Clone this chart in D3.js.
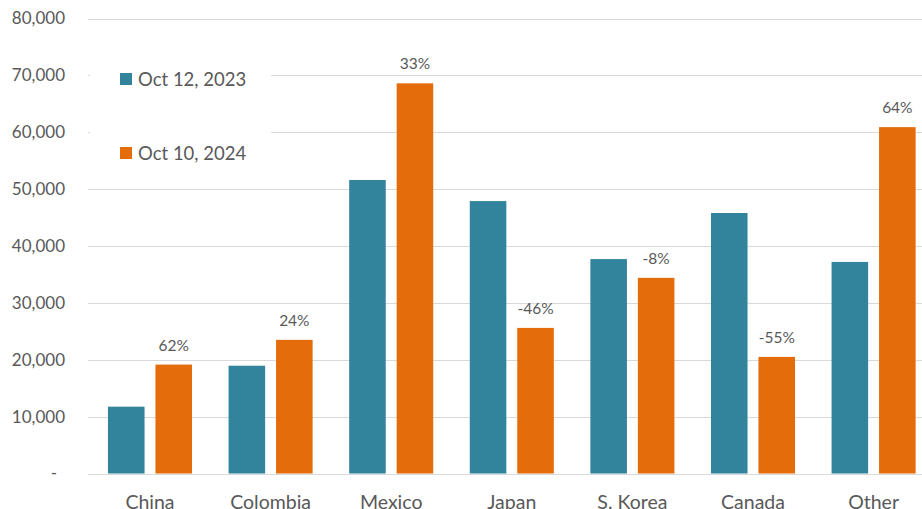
<!DOCTYPE html>
<html>
<head>
<meta charset="utf-8">
<script src="https://cdn.jsdelivr.net/npm/d3@7"></script>
<style>
  body { margin: 0; background: #fff; }
  text { font-family: Lato, "Open Sans", sans-serif; fill: #595959; }
</style>
</head>
<body>
<svg id="chart" width="922" height="509"></svg>
<script>
// Categories along the x axis
var categories = ["China", "Colombia", "Mexico", "Japan", "S. Korea", "Canada", "Other"];
// Series names (legend)
var seriesNames = ["Oct 12, 2023", "Oct 10, 2024"];
// Values per series
var values2023 = [11750, 18950, 51600, 47900, 37700, 45800, 37200];
var values2024 = [19150, 23500, 68600, 25600, 34400, 20500, 60900];
// Change labels over the 2024 bars
var changeLabels = ["62%", "24%", "33%", "-46%", "-8%", "-55%", "64%"];
// Y axis ticks
var yTicks = [0, 10000, 20000, 30000, 40000, 50000, 60000, 70000, 80000];
var colors = ["#31849b", "#e46c0a"];

function drawChart() {
	const svg = d3.select("#chart");

	const y = d3.scaleLinear()
		.domain([0, 80000])
		.range([473.5, 18.5]);

	const x = d3.scaleBand()
		.domain(categories)
		.range([89.7, 933.9])
		.paddingInner(0)
		.paddingOuter(0);

	const xInner = d3.scaleBand()
		.domain([0, 1])
		.range([0, x.bandwidth()])
		.paddingInner(0.23)
		.paddingOuter(0.385);

	// Gridlines
	svg.append("g")
		.selectAll("line")
		.data(yTicks)
		.enter().append("line")
		.attr("x1", 88)
		.attr("x2", 922)
		.attr("y1", d => Math.round(y(d)) + 0.5)
		.attr("y2", d => Math.round(y(d)) + 0.5)
		.attr("stroke", "#d9d9d9")
		.attr("stroke-width", 1);

	// Y labels
	svg.append("g")
		.selectAll("text")
		.data(yTicks)
		.enter().append("text")
		.attr("x", d => d === 0 ? 57 : 65)
		.attr("y", d => y(d))
		.attr("dy", "0.35em")
		.attr("text-anchor", "end")
		.attr("font-size", 17)
		.text(d => d === 0 ? "-" : d3.format(",")(d));

	// Bars
	const series = [values2023, values2024];
	const groups = svg.append("g")
		.selectAll("g.group")
		.data(categories)
		.enter().append("g")
		.classed("group", true)
		.attr("transform", d => `translate(${x(d)},0)`);

	groups.selectAll("rect")
		.data((d, i) => series.map((s, k) => ({k: k, v: s[i]})))
		.enter().append("rect")
		.attr("x", d => xInner(d.k))
		.attr("width", xInner.bandwidth())
		.attr("y", d => y(d.v))
		.attr("height", d => y(0) - y(d.v))
		.attr("fill", d => colors[d.k]);

	// Change labels above 2024 bars
	groups.append("text")
		.attr("x", xInner(1) + xInner.bandwidth() / 2)
		.attr("y", (d, i) => y(values2024[i]) - 14)
		.attr("text-anchor", "middle")
		.attr("font-size", 15.5)
		.text((d, i) => changeLabels[i]);

	// X labels (cut by the bottom edge, as in the original)
	svg.append("g")
		.selectAll("text")
		.data(categories)
		.enter().append("text")
		.attr("x", d => x(d) + x.bandwidth() / 2)
		.attr("y", 509)
		.attr("text-anchor", "middle")
		.attr("font-size", 19.5)
		.text(d => d);

	// Legend, with a white box that hides the gridlines behind it
	const legend = svg.append("g");
	legend.append("rect")
		.attr("x", 90)
		.attr("y", 45)
		.attr("width", 181)
		.attr("height", 143)
		.attr("fill", "#fff");
	const items = legend.selectAll("g.item")
		.data(seriesNames)
		.enter().append("g")
		.classed("item", true)
		.attr("transform", (d, i) => `translate(120, ${73 + i * 74})`);
	items.append("rect")
		.attr("width", 12)
		.attr("height", 12)
		.attr("fill", (d, i) => colors[i]);
	items.append("text")
		.attr("x", 18)
		.attr("y", 12.5)
		.attr("font-size", 18.5)
		.text(d => d);
}
drawChart();
</script>
</body>
</html>
